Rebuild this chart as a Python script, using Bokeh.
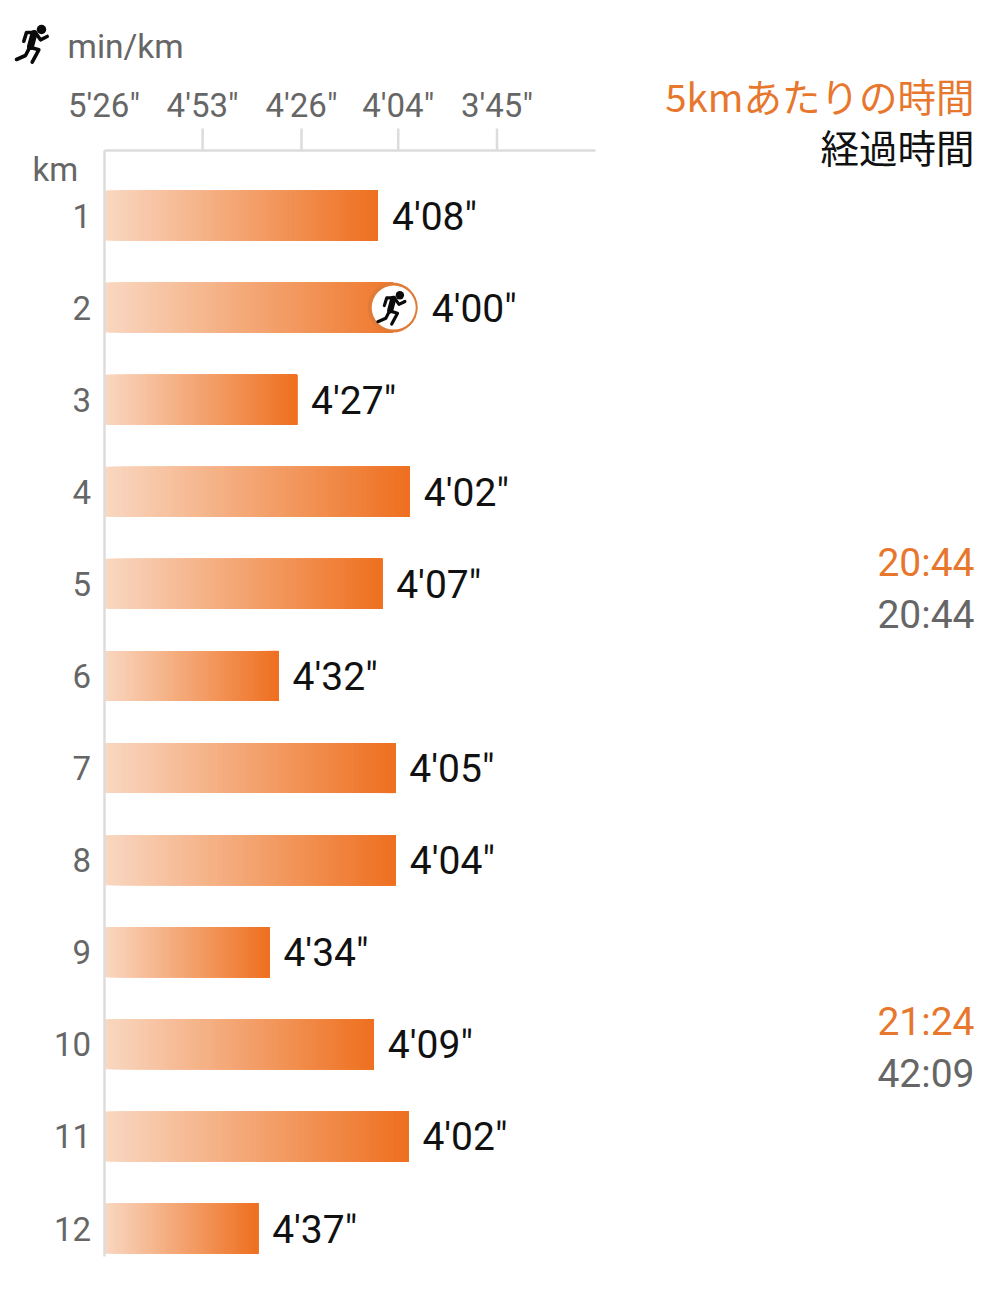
from bokeh.plotting import figure
from bokeh.models import Range1d, LinearAxis, FixedTicker, Label
from bokeh.core.properties import value
from bokeh.embed import file_html
from bokeh.resources import INLINE

# ---- data ----
km = [1, 2, 3, 4, 5, 6, 7, 8, 9, 10, 11, 12]
pace_labels = ["4'08\"", "4'00\"", "4'27\"", "4'02\"", "4'07\"", "4'32\"",
               "4'05\"", "4'04\"", "4'34\"", "4'09\"", "4'02\"", "4'37\""]
pace_seconds = [248.3, 240.0, 267.1, 241.6, 247.4, 271.8,
                244.6, 244.5, 274.2, 249.2, 241.9, 277.2]
tick_seconds = [326, 293, 266, 244, 225]
tick_labels = ["5'26\"", "4'53\"", "4'26\"", "4'04\"", "3'45\""]
split_header = "5kmあたりの時間"
total_header = "経過時間"
split_times = ["20:44", "21:24"]
total_times = ["20:44", "42:09"]
split_rows_y = [562, 1021]
total_rows_y = [614, 1073]

ORANGE = "#E8772E"
GREY = "#666666"
AXIS = "#DCDCDC"
LEFT_RGB = (249, 215, 193)
RIGHT_RGB = (238, 112, 32)
STEPS = 64

W, H = 987, 1280
AXIS_PX, LAST_TICK_PX = 103.5, 496.5
speed = lambda s: 1000.0 / s
m_per_px = (speed(225) - speed(326)) / (LAST_TICK_PX - AXIS_PX)
x_of = lambda px: speed(326) + (px - AXIS_PX) * m_per_px
FIRST_ROW_PX, LAST_ROW_PX = 215, 1228
row_per_px = 11.0 / (LAST_ROW_PX - FIRST_ROW_PX)
y_of = lambda py: 1 + (py - FIRST_ROW_PX) * row_per_px

p = figure(width=W, height=H, output_backend="svg", toolbar_location=None,
           x_range=Range1d(x_of(0), x_of(W)),
           y_range=Range1d(y_of(H), y_of(0)),
           x_axis_location=None, y_axis_location=None,
           min_border=0, min_border_left=0, min_border_right=0,
           min_border_top=0, min_border_bottom=0)
p.grid.visible = False
p.outline_line_color = None
p.background_fill_color = "white"
p.border_fill_color = "white"

# ---- axes ----
top = LinearAxis(ticker=FixedTicker(ticks=[speed(s) for s in tick_seconds]),
                 major_label_overrides={speed(s): l for s, l in zip(tick_seconds, tick_labels)},
                 fixed_location=y_of(150), bounds=(speed(326), x_of(595)))
top.axis_line_color = AXIS
top.axis_line_width = 2.5
top.major_tick_line_color = None
top.minor_tick_line_color = None
top.major_label_text_font = "Roboto"
top.major_label_text_font_size = "33px"
top.major_label_text_color = GREY
top.major_label_standoff = 20
p.add_layout(top, "above")
# tick marks of every label but the first, which sits on the left axis
p.segment(x0=[speed(s) for s in tick_seconds[1:]], x1=[speed(s) for s in tick_seconds[1:]],
          y0=y_of(128), y1=y_of(150), line_color=AXIS, line_width=2.5)

left = LinearAxis(ticker=FixedTicker(ticks=km),
                  fixed_location=speed(326), bounds=(y_of(150), y_of(1256)))
left.axis_line_color = AXIS
left.axis_line_width = 2.5
left.major_tick_line_color = None
left.minor_tick_line_color = None
left.major_label_text_font = "Roboto"
left.major_label_text_font_size = "33px"
left.major_label_text_color = GREY
left.major_label_standoff = 7
p.add_layout(left, "left")

# ---- gradient bars: painted left to right, each slice running to the bar end ----
best = pace_seconds.index(min(pace_seconds))
bar_h = 50 * row_per_px
x0s, x1s, tops, bottoms, colors = [], [], [], [], []
for i, (k, s) in enumerate(zip(km, pace_seconds)):
    end = speed(s)
    stop = end - 25 * m_per_px if i == best else end
    for n in range(STEPS):
        start = speed(326) + (end - speed(326)) * n / STEPS
        if start >= stop:
            continue
        f = n / (STEPS - 1)
        c = tuple(round(a + (b - a) * f) for a, b in zip(LEFT_RGB, RIGHT_RGB))
        x0s.append(start)
        x1s.append(stop)
        tops.append(k - bar_h / 2)
        bottoms.append(k + bar_h / 2)
        colors.append("#%02x%02x%02x" % c)
p.quad(left=x0s, right=x1s, top=tops, bottom=bottoms, fill_color=colors, line_color=None)

# ---- value labels ----
p.text(x=[speed(s) for s in pace_seconds], y=km, text=pace_labels,
       x_offset=14, y_offset=1, text_font=value("Roboto"), text_font_size="39px",
       text_color="#111111", text_baseline="middle", text_align="left")

# ---- fastest-km badge on row 2 ----
bx = speed(pace_seconds[best])
by = km[best]
p.scatter([bx - 25 * m_per_px], [by], size=50, fill_color="#E07B38", line_color=None)
p.scatter([bx - 24 * m_per_px], [by], size=44, fill_color="white", line_color=None)


def runner(cx_px, cy_px, scale):
    limbs = [
        [(-1, -11.7), (4, -4.7), (10.7, -8)],
        [(-3, -12), (-10, -12), (-12.7, -3.3)],
        [(-6.7, 2.7), (2.3, 5.3), (-4.3, 17.7)],
        [(-6.7, 2.7), (-11, 11), (-20, 15)],
    ]
    xs = [[x_of(cx_px + scale * a) for a, _ in l] for l in limbs]
    ys = [[y_of(cy_px + scale * b) for _, b in l] for l in limbs]
    p.multi_line(xs, ys, line_color="#0a0a0a", line_width=3.6 * scale,
                 line_join="round", line_cap="round")
    p.line([x_of(cx_px + scale * a) for a in (-2.5, -6)],
           [y_of(cy_px + scale * b) for b in (-11, 2)],
           line_color="#0a0a0a", line_width=7 * scale, line_cap="round")
    p.scatter([x_of(cx_px + scale * 5)], [y_of(cy_px + scale * -15)],
              size=9.5 * scale, fill_color="#0a0a0a", line_color=None)


runner(36, 44, 1.0)
runner(395, 308, 0.88)


# ---- free texts ----
def label(text, px, py, size, color, align="left", font="Roboto"):
    p.add_layout(Label(x=x_of(px), y=y_of(py), text=text, text_font=font,
                       text_font_size=size, text_color=color,
                       text_align=align, text_baseline="middle"))


label("min/km", 67, 46, "33.5px", GREY)
label("km", 32, 169, "33px", GREY)
label(split_header, 974, 94, "38.5px", ORANGE, "right", "Noto Sans CJK JP")
label(total_header, 974, 145, "38.5px", "#111111", "right", "Noto Sans CJK JP")
for t, y in zip(split_times, split_rows_y):
    label(t, 974, y, "39px", ORANGE, "right")
for t, y in zip(total_times, total_rows_y):
    label(t, 974, y, "39px", GREY, "right")

open("out.html", "w").write(file_html(p, INLINE))
